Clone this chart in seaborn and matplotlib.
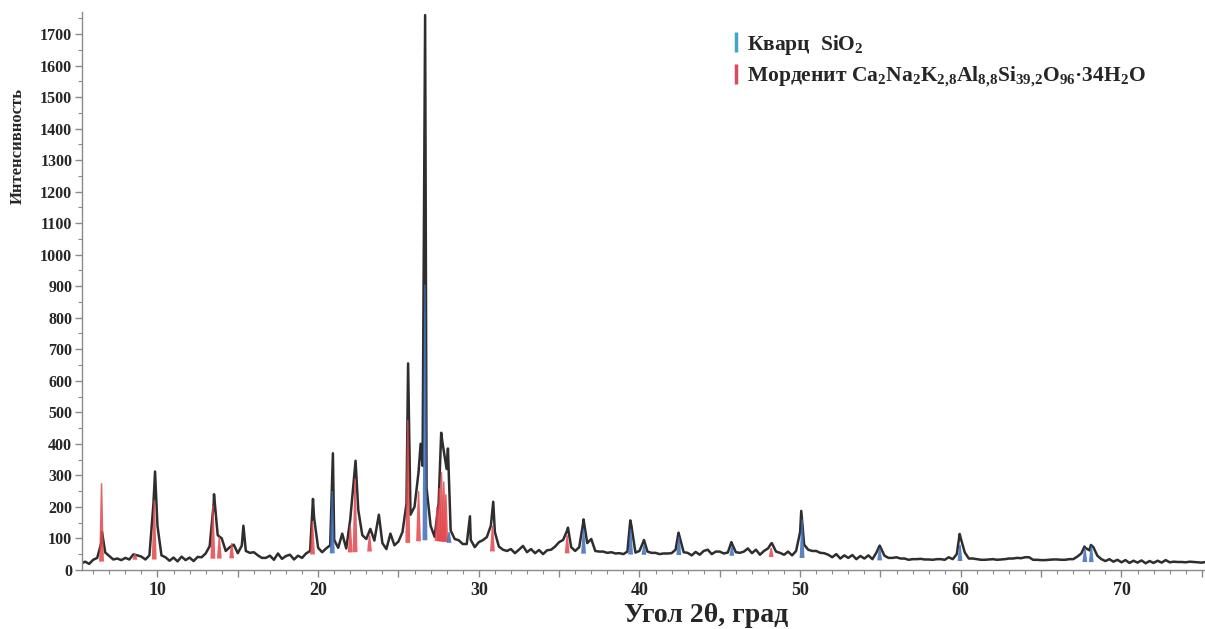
import numpy as np
import pandas as pd
import seaborn as sns
import matplotlib.pyplot as plt
from matplotlib.lines import Line2D
from matplotlib.ticker import MultipleLocator, FixedLocator, FuncFormatter

scan_start = 5.25
scan_step = 0.25
scan_counts = [
    20, 26, 19,
    32, 38, 85, 55,        # 6
    44, 33, 36, 31,        # 7
    38, 33, 49, 46,        # 8
    42, 33, 46, 210,       # 9
    140, 46, 40, 29,       # 10
    39, 27, 42, 31,        # 11
    39, 28, 41, 40,        # 12
    52, 75, 210, 110,      # 13
    100, 60, 72, 80,       # 14
    53, 77, 60, 54,        # 15
    56, 46, 38, 38,        # 16
    45, 32, 52, 35,        # 17
    44, 48, 33, 45,        # 18
    38, 52, 60, 165,       # 19
    70, 56, 68, 78,        # 20
    95, 70, 115, 68,       # 21
    160, 300, 190, 110,    # 22
    98, 130, 93, 165,      # 23
    85, 66, 115, 78,       # 24
    90, 120, 210, 175,     # 25
    200, 310, 330, 260,    # 26
    140, 105, 210, 400,    # 27
    320, 125, 98, 94,      # 28
    82, 82, 95, 72,        # 29
    88, 94, 104, 140,      # 30
    120, 74, 64, 60,       # 31
    66, 53, 64, 76,        # 32
    56, 66, 53, 63,        # 33
    50, 62, 64, 74,        # 34
    88, 95, 125, 72,       # 35
    60, 72, 150, 85,       # 36
    98, 60, 58, 58,        # 37
    54, 56, 52, 53,        # 38
    50, 58, 140, 55,       # 39
    60, 90, 58, 54,        # 40
    54, 50, 52, 52,        # 41
    53, 64, 105, 56,       # 42
    54, 46, 57, 48,        # 43
    60, 64, 50, 58,        # 44
    58, 52, 55, 84,        # 45
    56, 54, 58, 68,        # 46
    53, 64, 48, 60,        # 47
    68, 84, 58, 54,        # 48
    48, 58, 46, 60,        # 49
    120, 80, 64, 60,       # 50
    60, 54, 53, 48,        # 51
    40, 50, 36, 46,        # 52
    38, 47, 34, 44,        # 53
    36, 46, 34, 55,        # 54
    72, 45, 38, 38,        # 55
    40, 36, 36, 32,        # 56
    34, 34, 35, 33,        # 57
    33, 32, 34, 34,        # 58
    32, 40, 34, 50,        # 59
    100, 55, 36, 36,       # 60
    34, 32, 32, 33,        # 61
    34, 32, 33, 34,        # 62
    36, 36, 38, 37,        # 63
    40, 40, 32, 32,        # 64
    31, 31, 32, 33,        # 65
    33, 32, 32, 34,        # 66
    34, 42, 52, 70,        # 67
    62, 72, 45, 34,        # 68
    28, 34, 26, 32,        # 69
    24, 31, 22, 29,        # 70
    23, 30, 21, 28,        # 71
    22, 29, 23, 31,        # 72
    24, 26, 25, 25,        # 73
    24, 26, 25, 24,        # 74
    23, 25,
]

# peak tops of the observed scan
apex_2theta = [6.55, 9.85, 13.52, 15.35, 19.68, 20.92, 22.33, 23.78, 25.6, 26.38,
               26.66, 27.66, 28.08, 29.45, 30.9, 35.55, 36.52, 39.43, 40.28, 42.43,
               45.72, 48.22, 50.07, 54.95, 59.93, 67.7, 68.1]
apex_counts = [120, 312, 240, 140, 225, 370, 346, 175, 655, 400,
               1760, 435, 385, 170, 216, 134, 160, 157, 95, 118,
               88, 85, 187, 77, 114, 74, 79]

# amorphous background under the pattern
bg_2theta = [5.0, 8.0, 12.0, 16.0, 20.0, 23.0, 24.3, 25.5, 26.8, 28.0, 29.0, 30.2,
             32.0, 36.0, 40.0, 45.0, 50.0, 55.0, 60.0, 70.0, 76.0]
bg_counts = [20, 32, 34, 38, 50, 58, 60, 85, 95, 88, 72, 60,
             56, 52, 48, 46, 38, 30, 28, 24, 22]

# mordenite reflections
mord_2theta = [6.52, 8.6, 9.8, 13.45, 13.85, 14.62, 19.65, 22.0, 22.3, 23.2, 25.58,
               26.25, 27.4, 27.55, 27.68, 27.82, 27.95, 30.85, 35.5, 48.2]
mord_top = [275, 52, 220, 205, 105, 85, 155, 140, 290, 110, 475,
            250, 200, 260, 310, 280, 240, 140, 110, 70]

# quartz reflections
qtz_2theta = [20.88, 26.65, 28.15, 36.52, 39.45, 40.28, 42.45, 45.75, 50.12, 54.95,
              59.95, 67.72, 68.12]
qtz_top = [250, 905, 120, 130, 130, 80, 105, 75, 160, 70, 80, 70, 75]

legend_labels = ["Кварц  SiO$_2$",
                 "Морденит Ca$_2$Na$_2$K$_{2{,}8}$Al$_{8{,}8}$Si$_{39{,}2}$O$_{96}$·34H$_2$O"]

sns.set_theme(style="ticks")
plt.rcParams["font.family"] = ["Liberation Serif", "DejaVu Serif"]
plt.rcParams["font.weight"] = "bold"
plt.rcParams["mathtext.fontset"] = "custom"
plt.rcParams["mathtext.rm"] = "Liberation Serif:bold"
plt.rcParams["mathtext.it"] = "Liberation Serif:bold"
plt.rcParams["mathtext.bf"] = "Liberation Serif:bold"

scan_x = scan_start + scan_step * np.arange(len(scan_counts))
df = pd.DataFrame({"two_theta": np.concatenate([scan_x, apex_2theta]),
                   "counts": np.concatenate([scan_counts, apex_counts])})
df = df.sort_values("two_theta")

fig = plt.figure(figsize=(12.05, 6.29), dpi=100)
ax = fig.add_axes([0.068, 0.094, 0.932, 0.887])

sns.lineplot(data=df, x="two_theta", y="counts", color="#2e2e2e", linewidth=1.8,
             estimator=None, sort=False, ax=ax, zorder=2)


def draw_peaks(centers, tops, half, color):
    for c, t in zip(centers, tops):
        base = np.interp(c, bg_2theta, bg_counts)
        ax.fill([c - half, c - half * 0.3, c + half * 0.3, c + half],
                [base, t, t, base], color=color, alpha=0.85, lw=0, zorder=3)


draw_peaks(mord_2theta, mord_top, 0.15, "#e2474c")
draw_peaks(qtz_2theta, qtz_top, 0.15, "#3d6db5")

ax.set_xlim(5.3, 75.2)
ax.set_ylim(0, 1770)

ax.xaxis.set_major_locator(FixedLocator(np.arange(5, 76, 5)))
ax.xaxis.set_major_formatter(FuncFormatter(lambda v, p: f"{v:.0f}" if v % 10 == 0 else ""))
ax.xaxis.set_minor_locator(MultipleLocator(1))
ax.yaxis.set_major_locator(MultipleLocator(100))
ax.yaxis.set_minor_locator(MultipleLocator(50))

for s in ["top", "right"]:
    ax.spines[s].set_visible(False)
for s in ["left", "bottom"]:
    ax.spines[s].set_color("#8a8a8a")
    ax.spines[s].set_linewidth(1.0)

ax.tick_params(axis="both", which="major", direction="out", length=5, width=1, color="#8a8a8a")
ax.tick_params(axis="both", which="minor", direction="out", length=3, width=0.8, color="#8a8a8a")
ax.tick_params(axis="y", labelsize=11.5, pad=2)
ax.tick_params(axis="x", labelsize=13, pad=4)
for lab in ax.get_xticklabels() + ax.get_yticklabels():
    lab.set_fontweight("bold")

ax.set_xlabel("Угол 2θ, град", fontsize=20, fontweight="bold")
ax.xaxis.set_label_coords(0.556, -0.06)
ax.set_ylabel("Интенсивность", fontsize=12, fontweight="bold")
ax.yaxis.set_label_coords(-0.05, 0.76)

handles = [Line2D([], [], marker="|", linestyle="None", color="#3fa6c8", markersize=15, markeredgewidth=2.5),
           Line2D([], [], marker="|", linestyle="None", color="#d94a5c", markersize=15, markeredgewidth=2.5)]
ax.legend(handles, legend_labels, loc="upper left", bbox_to_anchor=(0.56, 0.997), frameon=False,
          handlelength=0.5, handletextpad=0.3, labelspacing=0.35,
          prop={"family": "Liberation Serif", "weight": "bold", "size": 15.5})

fig.savefig("out.png", dpi=100)
